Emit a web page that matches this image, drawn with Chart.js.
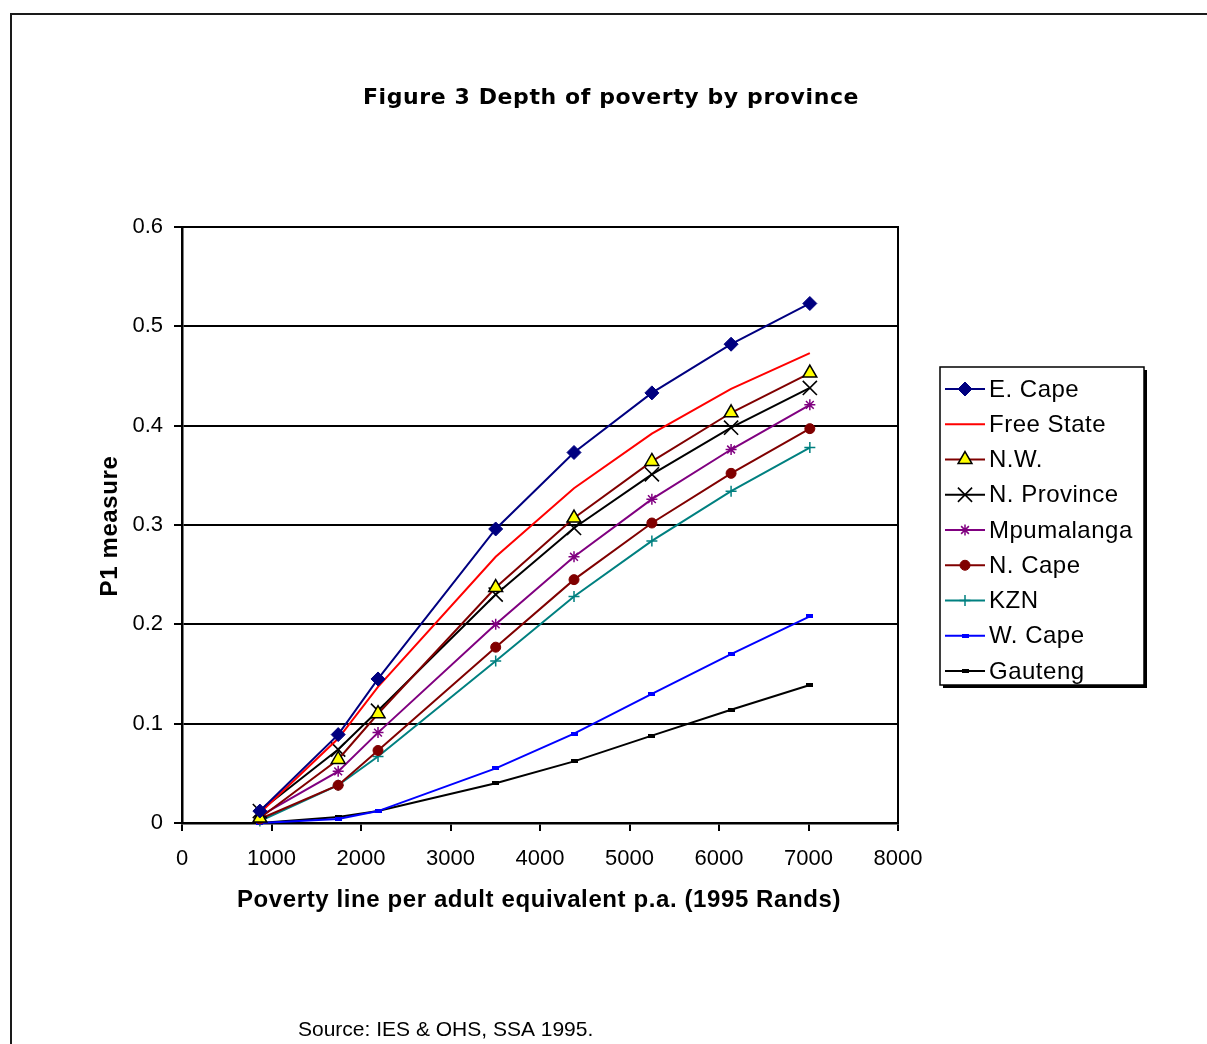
<!DOCTYPE html>
<html>
<head>
<meta charset="utf-8">
<title>Depth of poverty by province</title>
<script src="https://cdn.jsdelivr.net/npm/chart.js@4/dist/chart.umd.min.js"></script>
<style>
  html, body { margin: 0; padding: 0; background: #ffffff; }
  #wrap { position: relative; width: 1207px; height: 1044px; }
</style>
</head>
<body>
<div id="wrap"><canvas id="chart" width="1207" height="1044"></canvas></div>
<script>
// Poverty line per adult equivalent p.a. (1995 Rands)
const povertyLines = [870, 1745, 2190, 3505, 4380, 5250, 6135, 7015];

// P1 (poverty gap) measure per province
const eCape            = [0.012, 0.089, 0.145, 0.296, 0.373, 0.433, 0.482, 0.523];
const freeState        = [0.010, 0.085, 0.137, 0.268, 0.337, 0.392, 0.437, 0.473];
const northWest        = [0.005, 0.064, 0.110, 0.237, 0.307, 0.364, 0.413, 0.453];
const northernProvince = [0.012, 0.074, 0.113, 0.230, 0.297, 0.351, 0.398, 0.438];
const mpumalanga       = [0.007, 0.052, 0.091, 0.200, 0.268, 0.326, 0.376, 0.421];
const northernCape     = [0.004, 0.038, 0.073, 0.177, 0.245, 0.302, 0.352, 0.397];
const kzn              = [0.002, 0.038, 0.067, 0.163, 0.228, 0.284, 0.334, 0.378];
const westernCape      = [0.000, 0.004, 0.012, 0.055, 0.090, 0.130, 0.170, 0.208];
const gauteng          = [0.000, 0.006, 0.012, 0.040, 0.062, 0.088, 0.114, 0.139];

const xTickLabels = ['0', '1000', '2000', '3000', '4000', '5000', '6000', '7000', '8000'];
const yTickLabels = ['0', '0.1', '0.2', '0.3', '0.4', '0.5', '0.6'];

const titleText  = 'Figure 3 Depth of poverty by province';
const xTitleText = 'Poverty line per adult equivalent p.a. (1995 Rands)';
const yTitleText = 'P1 measure';
const sourceText = 'Source: IES & OHS, SSA 1995.';

// small flat bar marker used by W. Cape and Gauteng
function barMarker(color) {
  const c = document.createElement('canvas');
  c.width = 7; c.height = 4;
  const g = c.getContext('2d');
  g.fillStyle = color;
  g.fillRect(0, 0, 7, 4);
  return c;
}

function pts(values) {
  return values.map((v, i) => ({ x: povertyLines[i], y: v }));
}

function series(label, values, color, style) {
  return Object.assign({
    label: label,
    data: pts(values),
    showLine: true,
    borderColor: color,
    backgroundColor: color,
    pointBorderColor: color,
    pointBackgroundColor: color,
    borderWidth: 2,
    tension: 0,
    pointBorderWidth: 1,
    pointHoverRadius: 0,
    clip: false
  }, style);
}

const datasets = [
  series('E. Cape', eCape, '#000080', { pointStyle: 'rectRot', pointRadius: 7 }),
  series('Free State', freeState, '#FF0000', { pointRadius: 0 }),
  series('N.W.', northWest, '#800000', { pointStyle: 'triangle', pointRadius: 8, pointBackgroundColor: '#FFFF00', pointBorderColor: '#000000', pointBorderWidth: 1.5 }),
  series('N. Province', northernProvince, '#000000', { pointStyle: 'crossRot', pointRadius: 10, pointBorderWidth: 1.6 }),
  series('Mpumalanga', mpumalanga, '#800080', { pointStyle: 'star', pointRadius: 5.5, pointBorderWidth: 1.5 }),
  series('N. Cape', northernCape, '#800000', { pointStyle: 'circle', pointRadius: 5 }),
  series('KZN', kzn, '#008080', { pointStyle: 'cross', pointRadius: 5.5, pointBorderWidth: 1.5 }),
  series('W. Cape', westernCape, '#0000FF', { pointStyle: barMarker('#0000FF'), pointRadius: 4 }),
  series('Gauteng', gauteng, '#000000', { pointStyle: barMarker('#000000'), pointRadius: 4 })
];

const AREA = { left: 182, top: 227, right: 898, bottom: 823 };
const W = 1207, H = 1044;

function spaced(ctx, px) {
  if ('letterSpacing' in ctx) ctx.letterSpacing = px + 'px';
}

// page frame, titles, plot border and the boxed legend
const decorations = {
  id: 'decorations',
  beforeDraw(chart) {
    const ctx = chart.ctx;
    ctx.save();
    ctx.fillStyle = '#ffffff';
    ctx.fillRect(0, 0, W, H);
    // outer frame
    ctx.strokeStyle = '#1a1a1a';
    ctx.lineWidth = 2;
    ctx.beginPath();
    ctx.moveTo(11, H + 5);
    ctx.lineTo(11, 14);
    ctx.lineTo(W + 5, 14);
    ctx.stroke();
    ctx.restore();
  },
  afterDraw(chart) {
    const ctx = chart.ctx;
    const a = chart.chartArea;
    ctx.save();
    // plot border (top and right)
    ctx.strokeStyle = '#000';
    ctx.lineWidth = 2;
    ctx.beginPath();
    ctx.moveTo(a.left, a.top);
    ctx.lineTo(a.right, a.top);
    ctx.lineTo(a.right, a.bottom);
    ctx.stroke();

    ctx.fillStyle = '#000';
    // chart title
    ctx.font = 'bold 22px "DejaVu Sans"';
    spaced(ctx, 0.6);
    ctx.textAlign = 'center';
    ctx.textBaseline = 'middle';
    ctx.fillText(titleText, 611, 98);

    // axis titles
    ctx.font = 'bold 24px "Liberation Sans"';
    spaced(ctx, 0.6);
    ctx.fillText(xTitleText, 539, 900);
    ctx.save();
    ctx.translate(110, 526);
    ctx.rotate(-Math.PI / 2);
    ctx.fillText(yTitleText, 0, 0);
    ctx.restore();

    // source note
    ctx.font = '21px "Liberation Sans"';
    spaced(ctx, 0);
    ctx.textAlign = 'left';
    ctx.fillText(sourceText, 298, 1030);

    // legend box with drop shadow
    const lx = 940, ly = 367, lw = 204, lh = 318;
    ctx.fillStyle = '#000';
    ctx.fillRect(lx + 3, ly + 3, lw, lh);
    ctx.fillStyle = '#fff';
    ctx.fillRect(lx, ly, lw, lh);
    ctx.strokeStyle = '#000';
    ctx.lineWidth = 1.5;
    ctx.strokeRect(lx, ly, lw, lh);

    const rowGap = 35.25;
    chart.data.datasets.forEach((ds, i) => {
      const cy = 389 + i * rowGap;
      ctx.strokeStyle = ds.borderColor;
      ctx.lineWidth = 2;
      ctx.beginPath();
      ctx.moveTo(945, cy);
      ctx.lineTo(985, cy);
      ctx.stroke();
      if (ds.pointRadius > 0) {
        ctx.fillStyle = ds.pointBackgroundColor;
        ctx.strokeStyle = ds.pointBorderColor;
        ctx.lineWidth = ds.pointBorderWidth;
        Chart.helpers.drawPoint(ctx, {
          pointStyle: ds.pointStyle,
          radius: ds.pointRadius,
          rotation: 0,
          borderWidth: ds.pointBorderWidth
        }, 965, cy);
      }
      ctx.fillStyle = '#000';
      ctx.font = '24px "Liberation Sans"';
      spaced(ctx, 0.5);
      ctx.textAlign = 'left';
      ctx.textBaseline = 'middle';
      ctx.fillText(ds.label, 989, cy + 1);
      spaced(ctx, 0);
    });
    ctx.restore();
  }
};

new Chart(document.getElementById('chart'), {
  type: 'scatter',
  data: { datasets: datasets },
  options: {
    responsive: false,
    animation: false,
    events: [],
    layout: { padding: { left: 0, top: AREA.top, right: W - AREA.right, bottom: 0 } },
    plugins: { legend: { display: false }, tooltip: { enabled: false }, title: { display: false } },
    scales: {
      x: {
        type: 'linear',
        min: 0, max: 8000,
        afterFit(scale) { scale.height = H - AREA.bottom; },
        afterBuildTicks(scale) { scale.ticks = xTickLabels.map(t => ({ value: Number(t) })); },
        ticks: {
          color: '#000',
          font: { family: '"Liberation Sans"', size: 22 },
          padding: 15,
          maxRotation: 0,
          callback: (v) => String(v)
        },
        grid: { drawOnChartArea: false, drawTicks: true, tickLength: 8, color: '#000', lineWidth: 2 },
        border: { display: true, color: '#000', width: 2.5 }
      },
      y: {
        type: 'linear',
        min: 0, max: 0.6,
        afterFit(scale) { scale.width = AREA.left; },
        afterBuildTicks(scale) { scale.ticks = yTickLabels.map(t => ({ value: Number(t) })); },
        ticks: {
          color: '#000',
          font: { family: '"Liberation Sans"', size: 22 },
          padding: 11,
          callback: (v, i) => yTickLabels[i]
        },
        grid: { drawOnChartArea: true, drawTicks: true, tickLength: 8, color: '#000', lineWidth: 2 },
        border: { display: true, color: '#000', width: 2.5 }
      }
    }
  },
  plugins: [decorations]
});
</script>
</body>
</html>
